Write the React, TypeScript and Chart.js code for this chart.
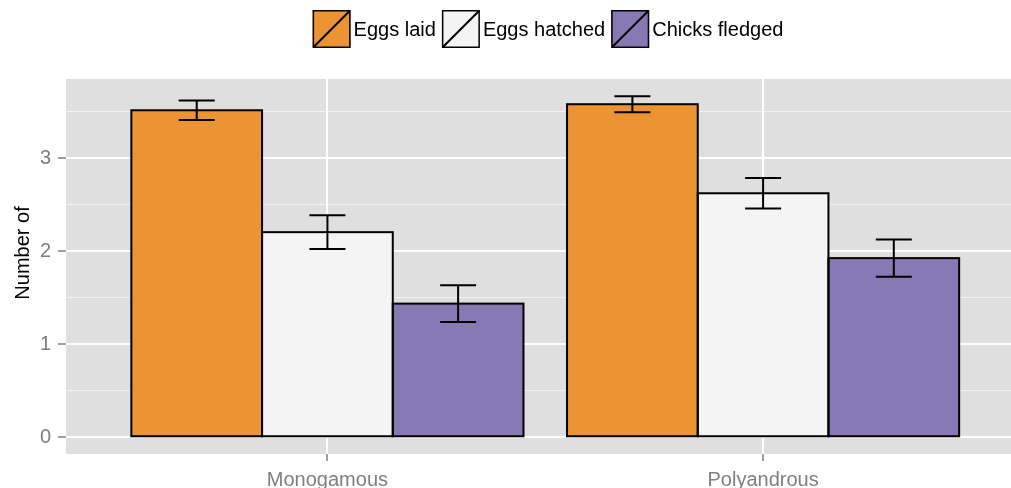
import React, { useEffect, useRef } from 'react';
import { Chart, registerables } from 'chart.js';

Chart.register(...registerables);

const categories = ['Monogamous', 'Polyandrous'];
const seriesLabels = ['Eggs laid', 'Eggs hatched', 'Chicks fledged'];
const eggsLaid = [3.514, 3.579];
const eggsHatched = [2.204, 2.622];
const chicksFledged = [1.436, 1.925];
const eggsLaidErr = [0.104, 0.086];
const eggsHatchedErr = [0.182, 0.165];
const chicksFledgedErr = [0.197, 0.2];
const yGridValues = [0, 0.5, 1, 1.5, 2, 2.5, 3, 3.5];
const yTitle = 'Number of';
const seriesColors = ['#EC9434', '#F4F4F4', '#8779B3'];

const FONT = "'Liberation Sans', Arial, Helvetica, sans-serif";

const panelBg = {
  id: 'panelBg',
  beforeDraw(chart: any) {
    const { ctx, chartArea: a } = chart;
    ctx.save();
    ctx.fillStyle = '#DFDFDF';
    ctx.fillRect(a.left, a.top, a.right - a.left, a.bottom - a.top);
    ctx.restore();
  },
};

const outlinesAndErrors = {
  id: 'outlinesAndErrors',
  afterDatasetsDraw(chart: any) {
    const { ctx } = chart;
    const yScale = chart.scales.y;
    ctx.save();
    ctx.strokeStyle = '#000000';
    // bar outlines centred on the bar edges (shared between neighbours)
    ctx.lineWidth = 2;
    chart.data.datasets.forEach((_ds: any, d: number) => {
      const meta = chart.getDatasetMeta(d);
      meta.data.forEach((el: any) => {
        const left = el.x - el.width / 2;
        const top = Math.min(el.y, el.base);
        const h = Math.abs(el.base - el.y);
        ctx.strokeRect(left, top, el.width, h);
      });
    });
    // error bars
    chart.data.datasets.forEach((ds: any, d: number) => {
      const meta = chart.getDatasetMeta(d);
      meta.data.forEach((el: any, i: number) => {
        const v = ds.data[i].y;
        const e = ds.errors[i];
        const yt = yScale.getPixelForValue(v + e);
        const yb = yScale.getPixelForValue(v - e);
        const x = el.x;
        const half = 18;
        ctx.beginPath();
        ctx.moveTo(x, yt);
        ctx.lineTo(x, yb);
        ctx.moveTo(x - half, yt);
        ctx.lineTo(x + half, yt);
        ctx.moveTo(x - half, yb);
        ctx.lineTo(x + half, yb);
        ctx.stroke();
      });
    });
    ctx.restore();
  },
};

const customLegend = {
  id: 'customLegend',
  afterDraw(chart: any) {
    const { ctx } = chart;
    const box = 38;
    const gapText = 3;
    const gapItem = 6;
    ctx.save();
    ctx.font = `20px ${FONT}`;
    const items = chart.data.datasets.map((ds: any) => ({
      label: ds.label,
      color: ds.backgroundColor,
      w: ctx.measureText(ds.label).width,
    }));
    const total = items.reduce((s: number, it: any) => s + box + gapText + it.w, 0) + gapItem * (items.length - 1);
    let x = 548 - total / 2;
    const top = 10;
    items.forEach((it: any) => {
      ctx.fillStyle = it.color;
      ctx.fillRect(x, top, box, box);
      ctx.strokeStyle = '#000000';
      ctx.lineWidth = 1.5;
      ctx.strokeRect(x + 0.75, top + 0.75, box - 1.5, box - 1.5);
      ctx.lineWidth = 2;
      ctx.beginPath();
      ctx.moveTo(x + 1, top + box - 1);
      ctx.lineTo(x + box - 1, top + 1);
      ctx.stroke();
      ctx.fillStyle = '#000000';
      ctx.textBaseline = 'middle';
      ctx.textAlign = 'left';
      ctx.fillText(it.label, x + box + gapText, top + box / 2 + 1);
      x += box + gapText + it.w + gapItem;
    });
    ctx.restore();
  },
};

const yTitlePlugin = {
  id: 'yTitlePlugin',
  afterDraw(chart: any) {
    const { ctx } = chart;
    ctx.save();
    ctx.translate(23, 253);
    ctx.rotate(-Math.PI / 2);
    ctx.font = `20px ${FONT}`;
    ctx.fillStyle = '#000000';
    ctx.textAlign = 'center';
    ctx.textBaseline = 'middle';
    ctx.fillText(yTitle, 0, 0);
    ctx.restore();
  },
};

export default function App() {
  const ref = useRef<HTMLCanvasElement | null>(null);

  useEffect(() => {
    if (!ref.current) return;
    const seriesValues = [eggsLaid, eggsHatched, chicksFledged];
    const seriesErrors = [eggsLaidErr, eggsHatchedErr, chicksFledgedErr];
    const chart = new Chart(ref.current, {
      type: 'bar',
      data: {
        datasets: seriesLabels.map((label, d) => ({
          label,
          data: seriesValues[d].map((v, i) => ({ x: i, y: v })),
          errors: seriesErrors[d],
          backgroundColor: seriesColors[d],
          borderWidth: 0,
          categoryPercentage: 0.9,
          barPercentage: 1,
        })) as any,
      },
      options: {
        animation: false,
        responsive: false,
        devicePixelRatio: 1,
        layout: { padding: { top: 79, left: 0, right: 0, bottom: 0 } },
        plugins: {
          legend: { display: false },
          tooltip: { enabled: false },
          title: { display: false },
        },
        scales: {
          x: {
            type: 'linear',
            min: -0.6,
            max: 1.569,
            offset: false,
            border: { display: false },
            afterBuildTicks: (s: any) => {
              s.ticks = categories.map((_, i) => ({ value: i }));
            },
            afterFit: (s: any) => {
              s.height = 34;
            },
            grid: {
              offset: false,
              color: '#FFFFFF',
              lineWidth: 2,
              tickColor: '#7F7F7F',
              tickLength: 7,
              tickWidth: 1.5,
            },
            ticks: {
              autoSkip: false,
              maxRotation: 0,
              padding: 7,
              color: '#7F7F7F',
              font: { size: 20, family: FONT },
              callback: (v: any) => categories[Math.round(Number(v))] ?? '',
            },
          },
          y: {
            type: 'linear',
            min: -0.18,
            max: 3.85,
            border: { display: false },
            afterBuildTicks: (s: any) => {
              s.ticks = yGridValues.map((v) => ({ value: v }));
            },
            afterFit: (s: any) => {
              s.width = 66;
            },
            grid: {
              color: (c: any) => (Number.isInteger(c.tick?.value) ? '#FFFFFF' : 'rgba(255,255,255,0.55)'),
              lineWidth: (c: any) => (Number.isInteger(c.tick?.value) ? 2 : 1),
              tickColor: (c: any) => (Number.isInteger(c.tick?.value) ? '#7F7F7F' : 'rgba(0,0,0,0)'),
              tickLength: 8,
              tickWidth: 1.5,
            },
            ticks: {
              autoSkip: false,
              padding: 7,
              color: '#7F7F7F',
              font: { size: 20, family: FONT },
              callback: (v: any) => (Number.isInteger(Number(v)) ? String(v) : ''),
            },
          },
        },
      } as any,
      plugins: [panelBg, outlinesAndErrors, customLegend, yTitlePlugin],
    });
    return () => chart.destroy();
  }, []);

  return (
    <div style={{ position: 'absolute', left: 0, top: 0, width: 1011, height: 488, background: '#FFFFFF' }}>
      <canvas ref={ref} width={1011} height={488} style={{ display: 'block', width: 1011, height: 488 }} />
    </div>
  );
}
